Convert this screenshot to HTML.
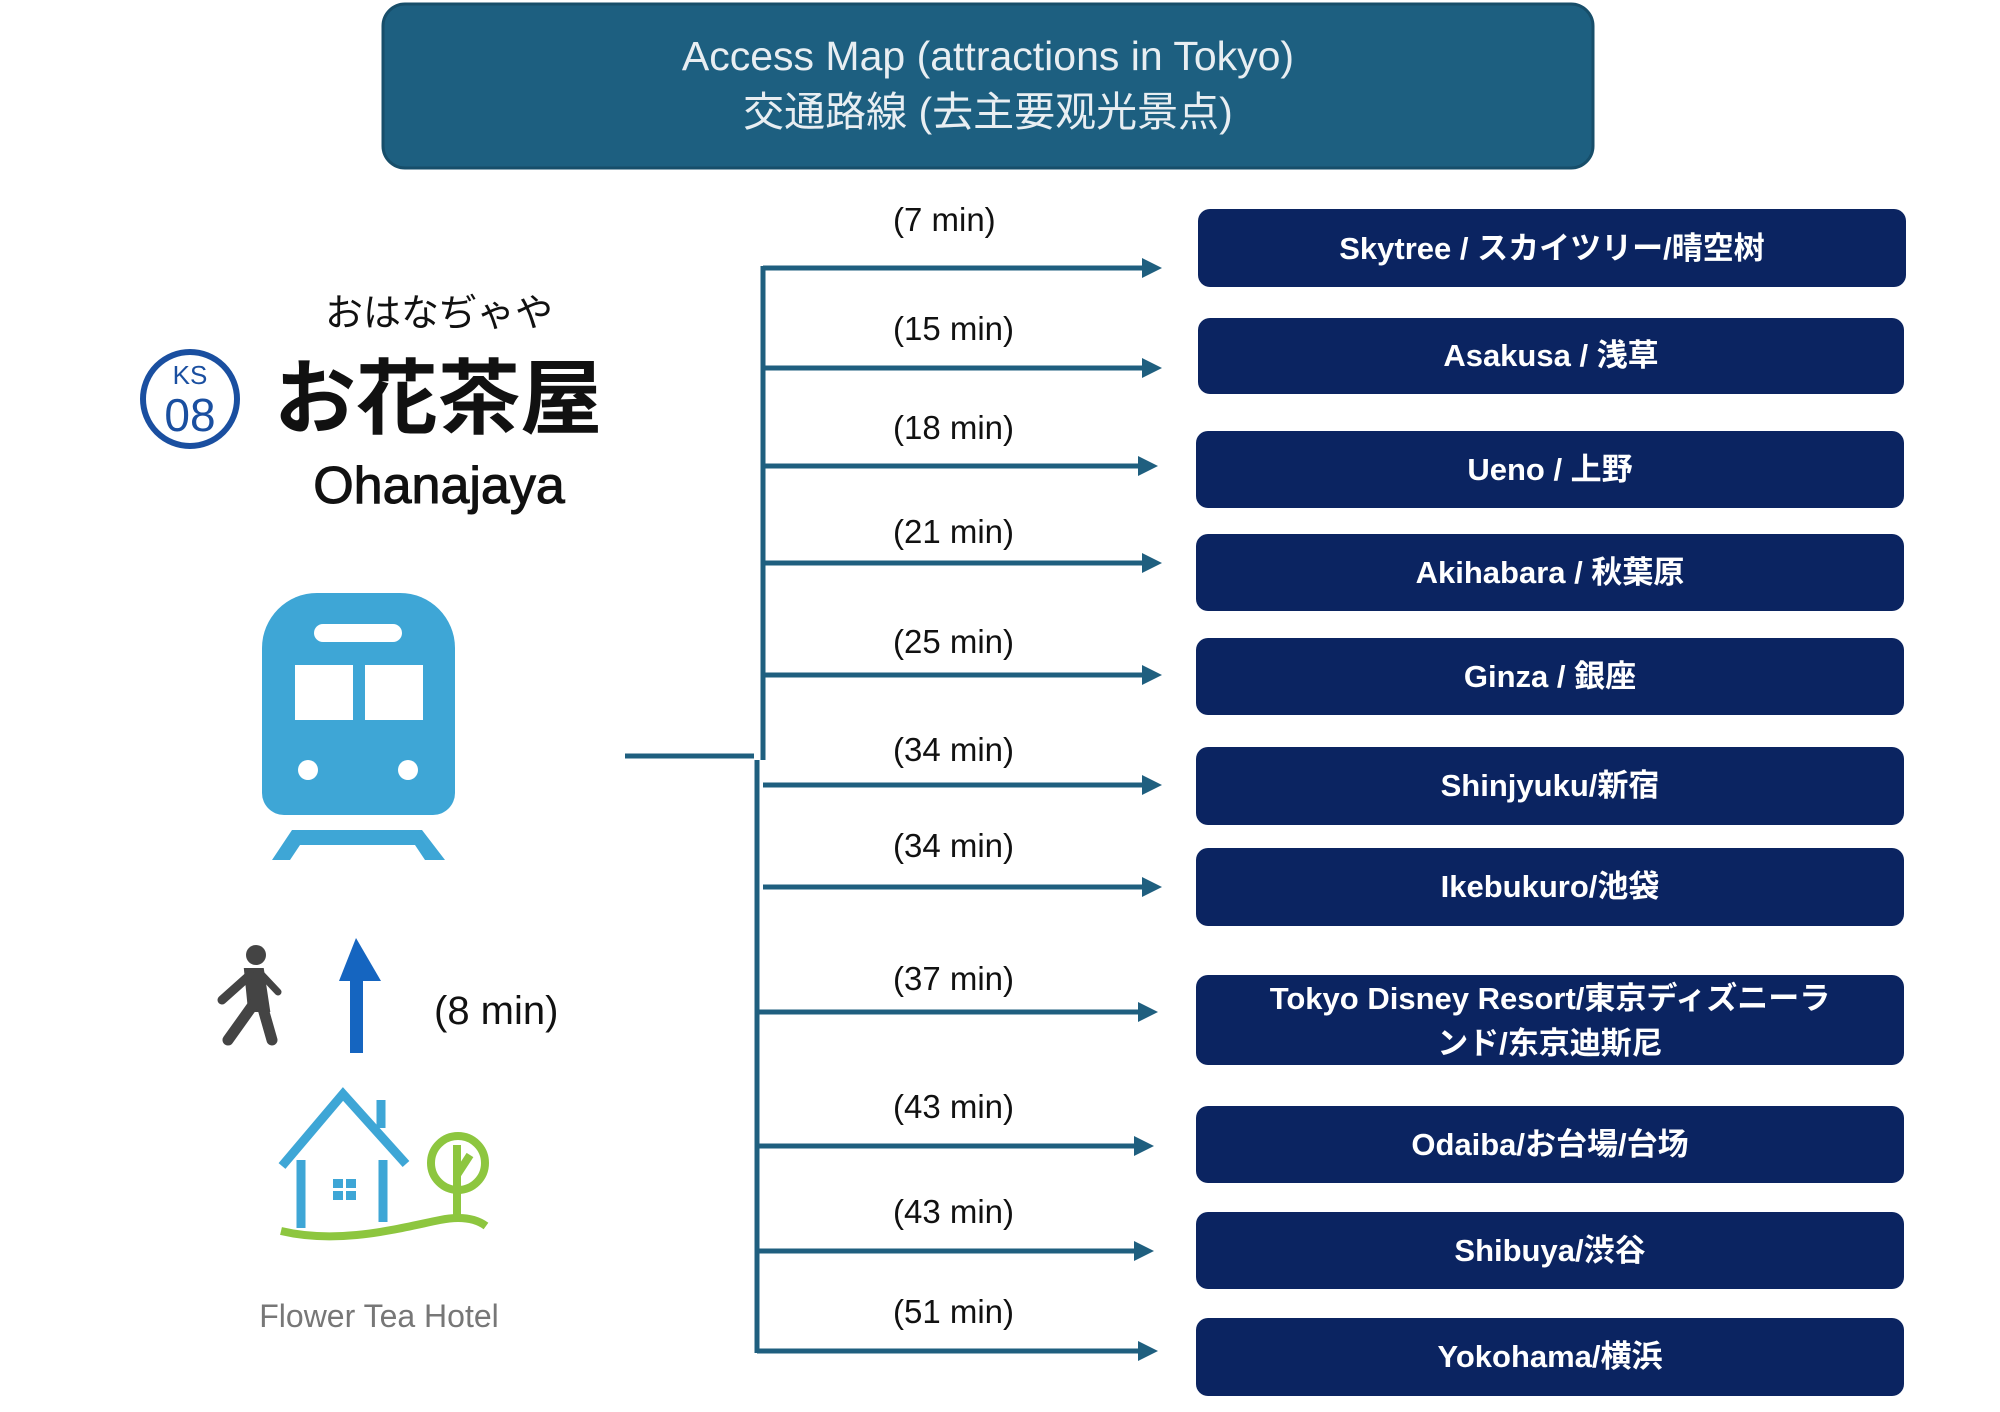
<!DOCTYPE html>
<html><head><meta charset="utf-8"><style>
html,body{margin:0;padding:0;background:#fff;}
svg{display:block;}
</style></head><body>
<svg width="2000" height="1412" viewBox="0 0 2000 1412" xmlns="http://www.w3.org/2000/svg" font-family="'Liberation Sans','Noto Sans CJK JP',sans-serif">
<defs>
<marker id="ah" markerWidth="4" markerHeight="4" refX="2" refY="2" orient="auto" markerUnits="strokeWidth">
<path d="M0,0 L4,2 L0,4 Z" fill="#1f5f7f"/></marker>
</defs>
<!-- title -->
<rect x="383" y="4" width="1210" height="164" rx="22" fill="#1d5f80" stroke="#174e6a" stroke-width="3"/>
<text x="988" y="70" text-anchor="middle" font-size="41" fill="#e8eef2">Access Map (attractions in Tokyo)</text>
<text x="988" y="126" text-anchor="middle" font-size="41" fill="#e8eef2">交通路線 (去主要观光景点)</text>

<!-- station sign -->
<text x="439" y="326" text-anchor="middle" font-size="38" fill="#111">おはなぢゃや</text>
<circle cx="190" cy="399" r="47" fill="none" stroke="#1a4fa0" stroke-width="6"/>
<text x="190" y="384" text-anchor="middle" font-size="26" fill="#1a4fa0">KS</text>
<text x="190" y="431" text-anchor="middle" font-size="46" fill="#1a4fa0">08</text>
<text x="438" y="427" text-anchor="middle" font-size="82" font-weight="bold" fill="#111">お花茶屋</text>
<text x="439" y="503" text-anchor="middle" font-size="52" fill="#111" stroke="#111" stroke-width="1">Ohanajaya</text>

<!-- train -->
<rect x="262" y="593" width="193" height="222" rx="55" fill="#3ea6d6"/>
<rect x="262" y="680" width="193" height="135" rx="22" fill="#3ea6d6"/>
<rect x="314" y="624" width="88" height="18" rx="9" fill="#fff"/>
<rect x="295" y="665" width="58" height="55" fill="#fff"/>
<rect x="365" y="665" width="58" height="55" fill="#fff"/>
<circle cx="308" cy="770" r="10" fill="#fff"/>
<circle cx="408" cy="770" r="10" fill="#fff"/>
<path d="M292,830 L422,830 L445,860 L425,860 L415,845 L300,845 L290,860 L272,860 Z" fill="#3ea6d6"/>

<!-- walker -->
<g fill="#444" stroke="#444" stroke-linecap="round">
<circle cx="256" cy="955" r="10" stroke="none"/>
<path d="M246,970 L262,970 L268,1010 L250,1010 Z" stroke-width="4"/>
<line x1="253" y1="1005" x2="228" y2="1040" stroke-width="11"/>
<line x1="262" y1="1005" x2="272" y2="1040" stroke-width="11"/>
<line x1="250" y1="975" x2="222" y2="1000" stroke-width="9"/>
<line x1="262" y1="975" x2="278" y2="992" stroke-width="7"/>
</g>
<!-- blue arrow -->
<rect x="350" y="978" width="13" height="75" fill="#1565c0"/>
<path d="M339,981 L356,938 L381,981 Z" fill="#1565c0"/>
<text x="434" y="1024" font-size="40" fill="#111">(8 min)</text>

<!-- house -->
<g fill="none" stroke="#3ea6d6" stroke-width="9">
<path d="M282,1166 L343,1094 L406,1164"/>
<line x1="301" y1="1160" x2="301" y2="1228"/>
<line x1="383" y1="1160" x2="383" y2="1222"/>
<line x1="381" y1="1100" x2="381" y2="1128"/>
</g>
<g fill="#3ea6d6">
<rect x="333" y="1179" width="10" height="9"/><rect x="346" y="1179" width="10" height="9"/>
<rect x="333" y="1191" width="10" height="9"/><rect x="346" y="1191" width="10" height="9"/>
</g>
<g fill="none" stroke="#8dc63f" stroke-width="8">
<circle cx="458" cy="1163" r="27"/>
<line x1="457" y1="1145" x2="457" y2="1215"/>
<line x1="457" y1="1175" x2="470" y2="1155"/>
<path d="M281,1231 C340,1245 400,1228 440,1220 C460,1216 475,1218 486,1226"/>
</g>
<text x="379" y="1327" text-anchor="middle" font-size="32" fill="#777">Flower Tea Hotel</text>

<!-- connectors -->
<g stroke="#1f5f7f" stroke-width="5" fill="none">
<line x1="625" y1="756" x2="754" y2="756"/>
<line x1="763" y1="266" x2="763" y2="760"/>
<line x1="757" y1="760" x2="757" y2="1353"/>
</g>
<g stroke="#1f5f7f" stroke-width="5" marker-end="url(#ah)">
<line x1="763" y1="268" x2="1152" y2="268"/>
<line x1="763" y1="368" x2="1152" y2="368"/>
<line x1="763" y1="466" x2="1148" y2="466"/>
<line x1="763" y1="563" x2="1152" y2="563"/>
<line x1="763" y1="675" x2="1152" y2="675"/>
<line x1="763" y1="785" x2="1152" y2="785"/>
<line x1="763" y1="887" x2="1152" y2="887"/>
<line x1="757" y1="1012" x2="1148" y2="1012"/>
<line x1="757" y1="1146" x2="1144" y2="1146"/>
<line x1="757" y1="1251" x2="1144" y2="1251"/>
<line x1="757" y1="1351" x2="1148" y2="1351"/>
</g>
<g font-size="33" fill="#111">
<text x="893" y="231">(7 min)</text>
<text x="893" y="340">(15 min)</text>
<text x="893" y="439">(18 min)</text>
<text x="893" y="543">(21 min)</text>
<text x="893" y="653">(25 min)</text>
<text x="893" y="761">(34 min)</text>
<text x="893" y="857">(34 min)</text>
<text x="893" y="990">(37 min)</text>
<text x="893" y="1118">(43 min)</text>
<text x="893" y="1223">(43 min)</text>
<text x="893" y="1323">(51 min)</text>
</g>

<!-- destination boxes -->
<g fill="#0b2461">
<rect x="1198" y="209" width="708" height="78" rx="12"/>
<rect x="1198" y="318" width="706" height="76" rx="12"/>
<rect x="1196" y="431" width="708" height="77" rx="12"/>
<rect x="1196" y="534" width="708" height="77" rx="12"/>
<rect x="1196" y="638" width="708" height="77" rx="12"/>
<rect x="1196" y="747" width="708" height="78" rx="12"/>
<rect x="1196" y="848" width="708" height="78" rx="12"/>
<rect x="1196" y="975" width="708" height="90" rx="12"/>
<rect x="1196" y="1106" width="708" height="77" rx="12"/>
<rect x="1196" y="1212" width="708" height="77" rx="12"/>
<rect x="1196" y="1318" width="708" height="78" rx="12"/>
</g>
<g font-size="31" font-weight="bold" fill="#fff" text-anchor="middle">
<text x="1552" y="259">Skytree / スカイツリー/晴空树</text>
<text x="1551" y="366">Asakusa / 浅草</text>
<text x="1550" y="480">Ueno / 上野</text>
<text x="1550" y="583">Akihabara / 秋葉原</text>
<text x="1550" y="687">Ginza / 銀座</text>
<text x="1550" y="796">Shinjyuku/新宿</text>
<text x="1550" y="897">Ikebukuro/池袋</text>
<text x="1550" y="1009">Tokyo Disney Resort/東京ディズニーラ</text>
<text x="1550" y="1054">ンド/东京迪斯尼</text>
<text x="1550" y="1155">Odaiba/お台場/台场</text>
<text x="1550" y="1261">Shibuya/渋谷</text>
<text x="1550" y="1367">Yokohama/横浜</text>
</g>
</svg>
</body></html>
